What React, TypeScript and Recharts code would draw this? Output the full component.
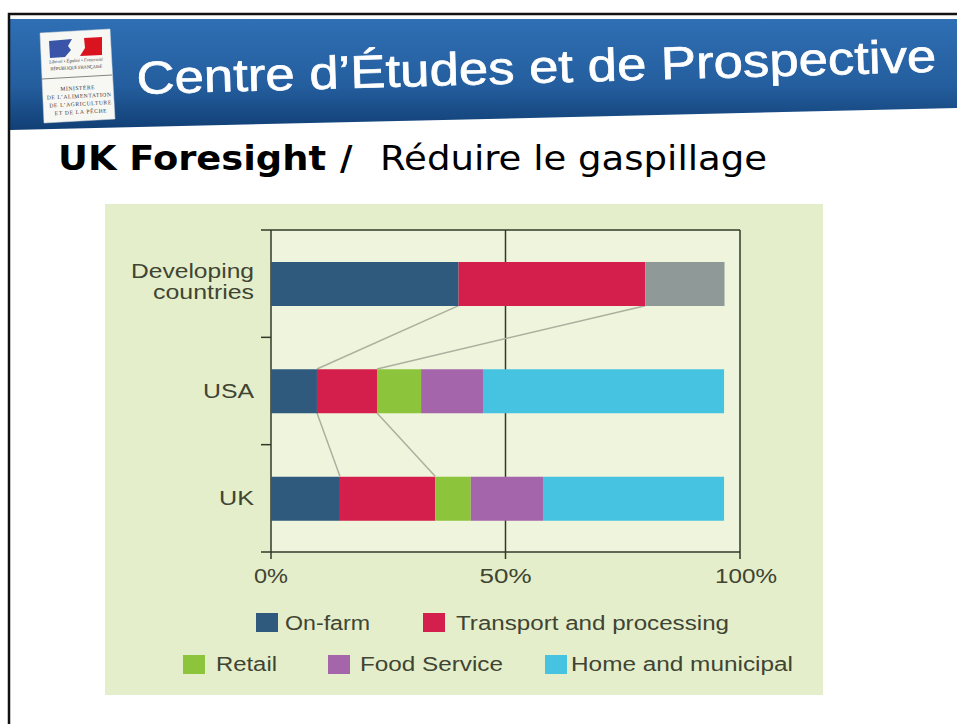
import React from "react";
import { BarChart, Bar, XAxis, YAxis, ReferenceLine, ReferenceArea, Legend, ScatterChart, Scatter } from "recharts";

const categories = ["Developing countries", "USA", "UK"];
const onFarm = [40, 9.8, 14.7];
const transport = [39.8, 12.8, 20.3];
const retail = [null, 9.4, 7.6];
const foodService = [null, 13.2, 15.4];
const home = [null, 51.4, 38.6];
const unspecified = [16.9, null, null];
const xTicks = [0, 50, 100];
const bandTicks = [0, 1, 2, 3];

// connector lines between the bars: [from %, from band position, to %, to band position]
const connectors = [
  [40, 2.295, 9.8, 1.705],
  [79.8, 2.295, 22.6, 1.705],
  [9.8, 1.295, 14.7, 0.705],
  [22.6, 1.295, 35, 0.705],
];

const data = categories.map((category, i) => ({
  category,
  onFarm: onFarm[i],
  transport: transport[i],
  retail: retail[i],
  foodService: foodService[i],
  home: home[i],
  unspecified: unspecified[i],
}));

const INK = "#3f4433";
const AXIS = "#33382a";
const FONT = "'Liberation Sans', Arial, sans-serif";

const Stretch = ({ x, y, w, children, anchor = "start", size = 20 }: any) => (
  <text x={x} y={y} textAnchor={anchor} fontFamily={FONT} fontSize={size} fill={INK} textLength={w} lengthAdjust="spacingAndGlyphs">
    {children}
  </text>
);

const catLayout: Record<string, { t: string; w: number; dy: number }[]> = {
  "Developing countries": [
    { t: "Developing", w: 123, dy: -6 },
    { t: "countries", w: 101, dy: 15 },
  ],
  USA: [{ t: "USA", w: 51, dy: 7 }],
  UK: [{ t: "UK", w: 35, dy: 7 }],
};

const CatTick = ({ y, payload }: any) => (
  <g>
    {(catLayout[payload.value] || []).map((l) => (
      <Stretch key={l.t} x={254} y={y + l.dy} w={l.w} anchor="end">
        {l.t}
      </Stretch>
    ))}
  </g>
);

const xTickW: Record<number, number> = { 0: 34, 50: 52, 100: 62 };
const XTick = ({ x, payload }: any) => (
  <Stretch x={x + (payload.value === 100 ? 6 : 0)} y={583} w={xTickW[payload.value]} anchor="middle">
    {payload.value + "%"}
  </Stretch>
);

const BlankTick = () => <g />;

const legendLayout: Record<string, { sx: number; sy: number; tx: number; w: number; by: number }> = {
  "On-farm": { sx: 256, sy: 613, tx: 285, w: 85, by: 630 },
  "Transport and processing": { sx: 423, sy: 613, tx: 456, w: 273, by: 630 },
  Retail: { sx: 183, sy: 655, tx: 216, w: 61, by: 671 },
  "Food Service": { sx: 328, sy: 655, tx: 360, w: 143, by: 671 },
  "Home and municipal": { sx: 545, sy: 655, tx: 571, w: 222, by: 671 },
};

const LegendContent = ({ payload }: any) => (
  <svg width={957} height={724} style={{ position: "absolute", left: 0, top: 0, overflow: "visible", pointerEvents: "none" }}>
    {(payload || []).map((p: any) => {
      const l = legendLayout[p.value];
      if (!l) return null;
      return (
        <g key={p.value}>
          <rect x={l.sx} y={l.sy} width={22} height={19} fill={p.color} />
          <Stretch x={l.tx} y={l.by} w={l.w}>
            {p.value}
          </Stretch>
        </g>
      );
    })}
  </svg>
);

const Backdrop = () => (
  <svg width={957} height={724} style={{ position: "absolute", left: 0, top: 0 }}>
    <defs>
      <linearGradient id="hdr" x1="0" y1="0" x2="0" y2="1">
        <stop offset="0" stopColor="#2f6fb4" />
        <stop offset="0.6" stopColor="#245e9e" />
        <stop offset="1" stopColor="#113f75" />
      </linearGradient>
    </defs>
    <rect width={957} height={724} fill="#fff" />
    <polygon points="10,19 957,19 957,108 10,130" fill="url(#hdr)" />
    <path d="M9 724 V14 H957" fill="none" stroke="#111" strokeWidth={2.5} />

    {/* emblem */}
    <polygon points="40,33 110,29 115,119 44,123" fill="#f7f7f4" stroke="#d5d8dc" strokeWidth={0.5} />
    <polygon points="49,41 72,39 68,46 71,50 65,57 50,58" fill="#3a55a8" />
    <polygon points="84,38 102,37 102,55 80,56 85,48" fill="#d9141e" />
    <g transform="rotate(-3 76 60)" fontFamily="'Liberation Serif', serif" fill="#333" textAnchor="middle">
      <text x={76} y={62} fontSize={4.5} fontStyle="italic" textLength={54}>Liberté • Égalité • Fraternité</text>
      <text x={76} y={69} fontSize={4.6} textLength={52}>RÉPUBLIQUE FRANÇAISE</text>
      <text x={76} y={90} fontSize={5.6} textLength={34}>MINISTÈRE</text>
      <text x={77} y={98} fontSize={5.6} textLength={64}>DE L’ALIMENTATION</text>
      <text x={78} y={106} fontSize={5.6} textLength={62}>DE L’AGRICULTURE</text>
      <text x={78} y={114} fontSize={5.6} textLength={52}>ET DE LA PÊCHE</text>
    </g>
    <line x1={42} y1={79} x2={112} y2={75} stroke="#666" strokeWidth={0.8} />

    <text x={137} y={94} transform="rotate(-1.6 137 94)" fontFamily={FONT} fontSize={46} fill="#fff" stroke="#fff" strokeWidth={0.7} textLength={800} lengthAdjust="spacingAndGlyphs">
      Centre d’Études et de Prospective
    </text>

    <g fontFamily="'DejaVu Sans', Verdana, sans-serif" fontSize={34} fill="#000">
      <text x={58} y={170} fontWeight="bold" textLength={268} lengthAdjust="spacingAndGlyphs">UK Foresight</text>
      <text x={340} y={170} fontWeight="bold">/</text>
      <text x={380} y={170} textLength={387} lengthAdjust="spacingAndGlyphs">Réduire le gaspillage</text>
    </g>

    <rect x={105} y={204} width={718} height={491} fill="#e4eeca" />
  </svg>
);

const NoDot = () => null;

export default function App() {
  return (
    <div style={{ position: "absolute", left: 0, top: 0, width: 957, height: 724, overflow: "hidden" }}>
      <Backdrop />
      <div style={{ position: "absolute", left: 0, top: 0 }}>
        <ScatterChart width={957} height={724} margin={{ top: 230, right: 217, bottom: 171, left: 270 }}>
          <ReferenceArea x1={0} x2={100} y1={0} y2={3} fill="#eef5dc" fillOpacity={1} stroke="none" />
          <XAxis
            type="number"
            dataKey="x"
            domain={[0, 100]}
            ticks={xTicks}
            height={1}
            interval={0}
            tick={<XTick />}
            tickSize={7}
            stroke={AXIS}
            strokeWidth={1.5}
          />
          <YAxis
            type="number"
            dataKey="y"
            domain={[0, 3]}
            ticks={bandTicks}
            width={1}
            interval={0}
            tick={<BlankTick />}
            tickSize={10}
            stroke={AXIS}
            strokeWidth={1.5}
          />
          <ReferenceLine y={3} stroke={AXIS} strokeWidth={1.5} />
          <ReferenceLine x={50} stroke={AXIS} strokeWidth={1.5} />
          <ReferenceLine x={100} stroke={AXIS} strokeWidth={1.5} />
          {connectors.map((c, i) => (
            <Scatter
              key={i}
              data={[
                { x: c[0], y: c[1] },
                { x: c[2], y: c[3] },
              ]}
              line={{ stroke: "#abb09f", strokeWidth: 1.5 }}
              shape={<NoDot />}
              isAnimationActive={false}
            />
          ))}
        </ScatterChart>
      </div>
      <div style={{ position: "absolute", left: 0, top: 0 }}>
        <BarChart
          width={957}
          height={724}
          data={data}
          layout="vertical"
          barSize={44}
          margin={{ top: 230, right: 217, bottom: 172, left: 270 }}
        >
          <XAxis type="number" domain={[0, 100]} hide />
          <YAxis type="category" dataKey="category" width={1} axisLine={false} tickLine={false} interval={0} tick={<CatTick />} />
          <Bar dataKey="onFarm" name="On-farm" stackId="a" fill="#2f5a7e" isAnimationActive={false} />
          <Bar dataKey="transport" name="Transport and processing" stackId="a" fill="#d41f4c" isAnimationActive={false} />
          <Bar dataKey="retail" name="Retail" stackId="a" fill="#8cc43c" isAnimationActive={false} />
          <Bar dataKey="foodService" name="Food Service" stackId="a" fill="#a565aa" isAnimationActive={false} />
          <Bar dataKey="home" name="Home and municipal" stackId="a" fill="#47c3e2" isAnimationActive={false} />
          <Bar dataKey="unspecified" name="Unspecified" stackId="a" fill="#8f9a98" legendType="none" isAnimationActive={false} />
          <Legend content={<LegendContent />} wrapperStyle={{ left: 0, top: 0, width: 0, height: 0 }} />
        </BarChart>
      </div>
    </div>
  );
}
